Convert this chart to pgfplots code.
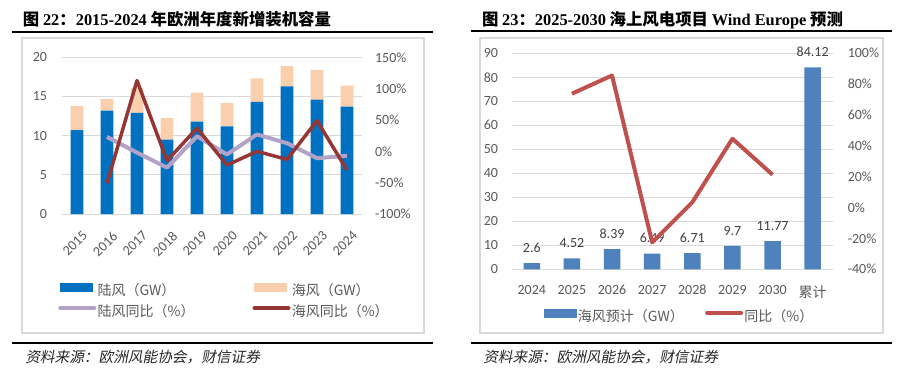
\documentclass[border=0pt]{standalone}
\usepackage{pgfplots}
\usepackage{pgfplotstable}
\pgfplotsset{compat=1.18}
\usepackage{fontspec}
\setmainfont{Carlito}
\newfontfamily\cjk{Noto Sans CJK SC}
\newfontfamily\cjksl{Noto Sans CJK SC}[FakeSlant=0.2]
\newfontfamily\tnr{Liberation Serif}

\definecolor{onblue}{HTML}{0070C0}
\definecolor{offpeach}{HTML}{F9CFAE}
\definecolor{onpurple}{HTML}{B3A2C7}
\definecolor{offred}{HTML}{943634}
\definecolor{barblue}{HTML}{4F81BD}
\definecolor{linered}{HTML}{C0504D}
\definecolor{txtgray}{HTML}{595959}
\definecolor{lbl}{HTML}{404040}
\definecolor{gridgray}{HTML}{D9D9D9}
\definecolor{framegray}{HTML}{D9D9D9}

\pgfplotstableread{
x on off onyoy offyoy
0 10.7 3.1 nan nan
1 13.2 1.5 23 -51
2 12.9 3.2 -2 113
3 9.5 2.75 -26 -15
4 11.8 3.7 24 37
5 11.2 3.0 -5 -22
6 14.3 3.0 27 0
7 16.3 2.6 13 -13
8 14.6 3.8 -11 49
9 13.7 2.7 -7 -30
}\landtable

\pgfplotstableread{
x y lab yoy
0 2.6 2.6 nan
1 4.52 4.52 73.8
2 8.39 8.39 85.6
3 6.49 6.49 -22.6
4 6.71 6.71 3.4
5 9.7 9.7 44.6
6 11.77 11.77 21.3
7 84.12 84.12 nan
}\windtable

\pgfplotsset{
  base/.style={
    scale only axis, anchor=south west,
    axis line style={draw=none},
    major tick length=0pt,
    tick style={draw=none},
    /pgf/number format/assume math mode=true,
    ticklabel style={font=\fontsize{10.5}{12}\selectfont, text=txtgray},
    clip=false,
  },
  leg/.style={
    legend style={draw=none, fill=none, inner sep=0pt, anchor=north west,
      font=\cjk\fontsize{10.5}{12}\selectfont, text=txtgray,
      nodes={inner xsep=1pt, inner ysep=2.6pt}},
    legend cell align=left,
    legend columns=2,
  },
}

\begin{document}
\begin{tikzpicture}
\useasboundingbox (0,0) rectangle (678pt,276.75pt);

% ---------- decorations left ----------
\node[anchor=base west, inner sep=0pt, font=\fontsize{12.3}{14}\selectfont] at (17pt,258pt)
  {{\cjk\bfseries 图} {\tnr\bfseries 22}{\cjk\bfseries ：}{\tnr\bfseries 2015-2024} {\cjk\bfseries 年欧洲年度新增装机容量}};
\draw[line width=1.5pt] (9pt,253.1pt) -- (324.75pt,253.1pt);
\draw[framegray, line width=1pt] (16.5pt,27pt) rectangle (318pt,248.25pt);
\draw[line width=1.5pt] (9pt,19.7pt) -- (324.75pt,19.7pt);
\node[anchor=base west, inner sep=0pt, font=\cjksl\fontsize{11}{13}\selectfont, text=black!85] at (18.75pt,5.25pt)
  {资料来源：欧洲风能协会，财信证券};

% ---------- decorations right ----------
\node[anchor=base west, inner sep=0pt, font=\fontsize{12.3}{14}\selectfont] at (361.3pt,258pt)
  {{\cjk\bfseries 图} {\tnr\bfseries 23}{\cjk\bfseries ：}{\tnr\bfseries 2025-2030} {\cjk\bfseries 海上风电项目} {\tnr\bfseries Wind Europe} {\cjk\bfseries 预测}};
\draw[line width=1.5pt] (353.25pt,253.5pt) -- (669pt,253.5pt);
\draw[framegray, line width=1pt] (360pt,27pt) rectangle (662.25pt,248.25pt);
\draw[line width=1.5pt] (353.25pt,19.7pt) -- (669pt,19.7pt);
\node[anchor=base west, inner sep=0pt, font=\cjksl\fontsize{11}{13}\selectfont, text=black!85] at (362.25pt,5.25pt)
  {资料来源：欧洲风能协会，财信证券};

% ---------- left chart ----------
\begin{axis}[base, at={(46.5pt,116.25pt)}, width=225pt, height=117.5pt,
  xmin=-0.5, xmax=9.5, ymin=0, ymax=20, ytick={0,5,10,15,20},
  ymajorgrids, grid style={gridgray, line width=0.75pt},
  xtick={0,...,9}, xticklabels={2015,2016,2017,2018,2019,2020,2021,2022,2023,2024},
  xticklabel style={xshift=3.5pt, yshift=-12pt, rotate=45, anchor=north east, inner sep=0pt},
  yticklabel style={xshift=-7.75pt},
  ybar stacked, bar width=9.5pt]
\addplot[fill=onblue, draw=none] table[x=x,y=on]{\landtable};
\addplot[fill=offpeach, draw=none] table[x=x,y=off]{\landtable};
\end{axis}

\begin{axis}[base, leg, at={(46.5pt,116.25pt)}, width=225pt, height=117.5pt,
  xmin=-0.5, xmax=9.5, ymin=-100, ymax=150, ytick={-100,-50,0,50,100,150},
  xtick=\empty, yticklabel pos=right,
  yticklabel={\pgfmathprintnumber{\tick}\%},
  yticklabel style={xshift=6.25pt},
  legend style={at={(-0.0133,-0.419)}, /tikz/every even column/.append style={column sep=42.5pt}}]
\addlegendimage{legend image code/.code={\fill[onblue] (0pt,-0.6pt) rectangle (24pt,5.6pt);}}
\addlegendentry{陆风（GW）}
\addlegendimage{legend image code/.code={\fill[offpeach] (0pt,-0.6pt) rectangle (24pt,5.6pt);}}
\addlegendentry{海风（GW）}
\addplot[onpurple, line width=3pt, line join=round,
  legend image code/.code={\draw[onpurple, line width=3pt, line cap=round] (0pt,2.5pt) -- (25.5pt,2.5pt);}]
  table[x=x,y=onyoy]{\landtable};
\addlegendentry{陆风同比（\%）}
\addplot[offred, line width=2.6pt, line join=round,
  legend image code/.code={\draw[offred, line width=3pt, line cap=round] (0pt,2.5pt) -- (25.5pt,2.5pt);}]
  table[x=x,y=offyoy]{\landtable};
\addlegendentry{海风同比（\%）}
\end{axis}

% ---------- right chart ----------
\begin{axis}[base, at={(383.8pt,74.8pt)}, width=240.75pt, height=162pt,
  xmin=-0.5, xmax=7.5, ymin=0, ymax=90, ytick={0,10,...,90},
  ymajorgrids, grid style={gridgray, line width=0.75pt},
  xtick={0,...,7}, xticklabels={2024,2025,2026,2027,2028,2029,2030,{\cjk 累计}},
  xticklabel style={yshift=-8.5pt},
  yticklabel style={xshift=-6.8pt},
  ybar, bar width=12.4pt]
\addplot[fill=barblue, draw=none, nodes near coords, point meta=explicit symbolic,
  every node near coord/.append style={font=\fontsize{10.5}{12}\selectfont, text=lbl, yshift=4.5pt}]
  table[x=x,y=y,meta=lab]{\windtable};
\end{axis}

\begin{axis}[base, leg, at={(383.8pt,74.8pt)}, width=240.75pt, height=162pt,
  xmin=-0.5, xmax=7.5, ymin=-40, ymax=100, ytick={-40,-20,0,20,40,60,80,100},
  xtick=\empty, yticklabel pos=right,
  yticklabel={\pgfmathprintnumber{\tick}\%},
  yticklabel style={xshift=7.75pt},
  legend style={at={(0.1006,-0.168)}, /tikz/every even column/.append style={column sep=15pt}}]
\addlegendimage{legend image code/.code={\fill[barblue] (0pt,-0.6pt) rectangle (23.8pt,5.6pt);}}
\addlegendentry{海风预计（GW）}
\addplot[linered, line width=3pt, line join=round,
  legend image code/.code={\draw[linered, line width=3pt, line cap=round] (0pt,2.5pt) -- (25.5pt,2.5pt);}]
  table[x=x,y=yoy]{\windtable};
\addlegendentry{同比（\%）}
\end{axis}
\end{tikzpicture}
\end{document}
